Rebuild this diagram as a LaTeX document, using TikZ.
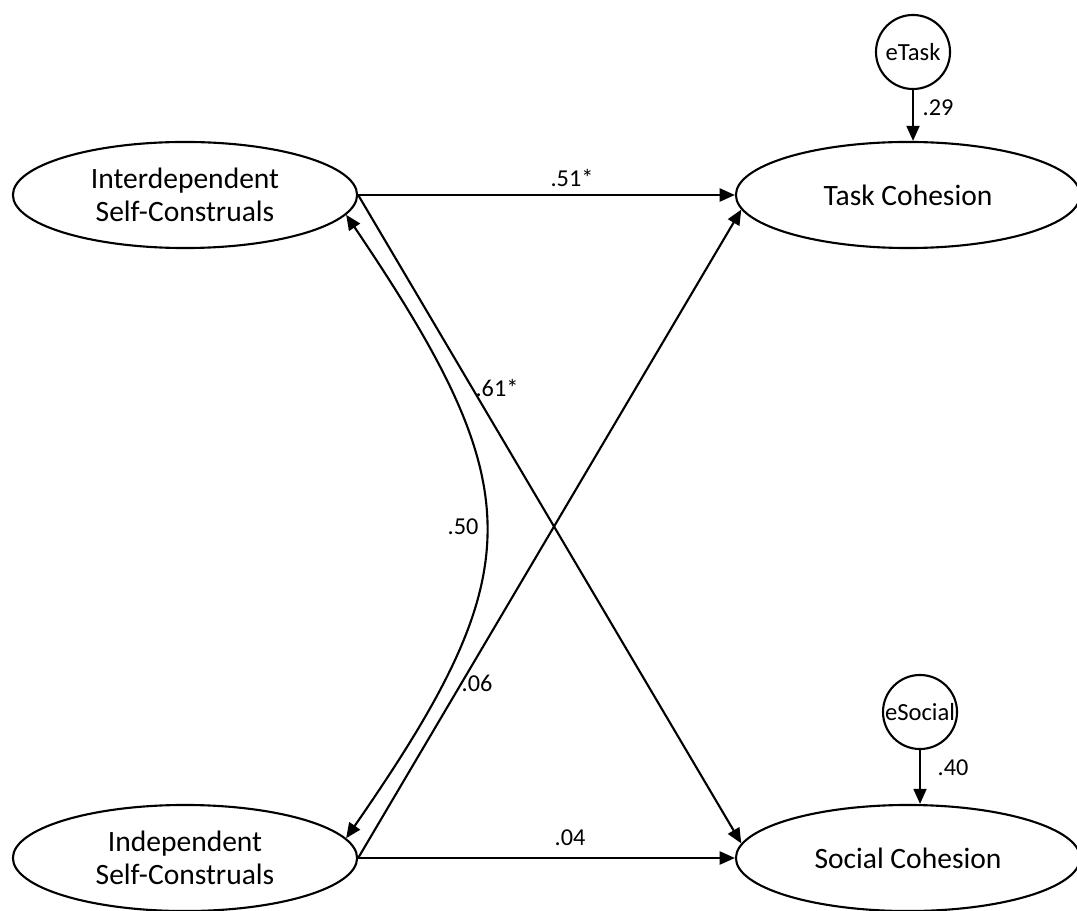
\documentclass[tikz,border=0pt]{standalone}
\usepackage{fontspec}
\setmainfont{Carlito}
\usetikzlibrary{shapes,decorations}
\usetikzlibrary{arrows.meta}

\begin{document}
\begin{tikzpicture}[x=0.01cm,y=-0.01cm,
  latent/.style={draw,ellipse,line width=0.6pt,minimum width=3.44cm,minimum height=1.06cm,inner sep=0pt,align=center,font=\fontsize{8.4}{9.4}\selectfont},
  errvar/.style={draw,circle,line width=0.6pt,minimum size=0.74cm,inner sep=0pt,font=\fontsize{7}{8}\selectfont},
  effect/.style={line width=0.6pt,-{Triangle[length=4.3pt,width=3.7pt]}},
  covar/.style={line width=0.6pt,{Triangle[length=4.3pt,width=3.7pt]}-{Triangle[length=4.3pt,width=3.7pt]}},
  coef/.style={font=\fontsize{6.9}{8}\selectfont}]

\useasboundingbox (0,0) rectangle (1077,910);

% Draw latent variables
\node[latent] (inter) at (185,195) {Interdependent\\Self-Construals};
\node[latent] (indep) at (185,858) {Independent\\Self-Construals};
\node[latent] (task) at (908,195) {Task Cohesion};
\node[latent] (social) at (908,858) {Social Cohesion};

% Draw error terms
\node[errvar] (etask) at (913,52) {eTask};
\node[errvar] (esocial) at (920,712) {eSocial};
\draw[effect] (etask) -- (etask |- task.north);
\draw[effect] (esocial) -- (esocial |- social.north);
\node[coef] (l29) at (938,108) {.29};
\node[coef] (l40) at (953,768) {.40};

% Draw paths
\draw[effect] (inter.east) -- (task.west);
\draw[effect] (inter.east) -- (social.175);
\draw[effect] (indep.east) -- (task.185);
\draw[effect] (indep.east) -- (social.west);

% Draw covariance
\draw[covar] (inter.-7) .. controls (532,490) and (532,570) .. (indep.7);

% Draw coefficients
\node[coef] (l51) at (572,178) {.51*};
\node[coef] (l04) at (570,838) {.04};
\node[coef] (l61) at (497,388) {.61*};
\node[coef] (l50) at (463,527) {.50};
\node[coef] (l06) at (477,683) {.06};

\end{tikzpicture}
\end{document}
